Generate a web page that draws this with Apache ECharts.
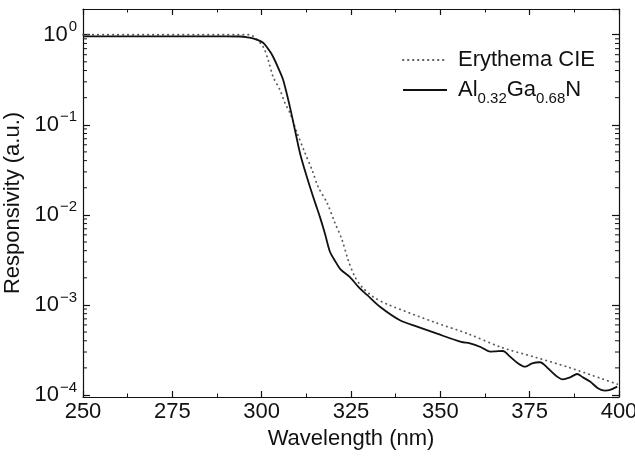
<!DOCTYPE html>
<html>
<head>
<meta charset="utf-8">
<script src="https://cdn.jsdelivr.net/npm/echarts@6/dist/echarts.min.js"></script>
<style>html,body{margin:0;padding:0;background:#fff;}#c{width:635px;height:457px;}</style>
</head>
<body>
<div id="c"></div>
<script>
// ---- data ----
const wavelengthAlGaN = [250, 270, 290, 294, 296, 298, 300.4, 302, 303.2, 304.5, 306, 307.9, 309.3, 310.7, 312, 313.5, 315, 316.3, 317.7, 319.1, 320.5, 322, 324.7, 327, 329.5, 333.1, 338.7, 343.5, 349.1, 355.8, 358.3, 361.4, 363.9, 365.5, 367.5, 369.5, 371.7, 373.7, 375.7, 377.9, 380.1, 382.7, 384.3, 386.3, 388.3, 389.9, 391.9, 394.1, 396.1, 397.5, 399.5];
const responsivityAlGaN = [0.96, 0.96, 0.96, 0.955, 0.935, 0.90, 0.815, 0.68, 0.57, 0.44, 0.316, 0.158, 0.088, 0.049, 0.032, 0.0205, 0.0135, 0.0095, 0.0062, 0.0039, 0.0031, 0.0025, 0.00204, 0.00160, 0.00129, 0.000955, 0.000676, 0.000575, 0.000479, 0.000389, 0.000375, 0.000339, 0.000303, 0.000305, 0.000308, 0.000267, 0.000225, 0.000206, 0.000225, 0.000231, 0.000198, 0.000160, 0.000149, 0.000157, 0.000171, 0.000157, 0.000141, 0.000119, 0.000112, 0.000114, 0.000124];

const wavelengthCIE = [250, 296.7, 298.1, 300.4, 301.8, 303.2, 305.1, 306.5, 307.9, 309.9, 312.1, 314.1, 315.8, 318.3, 320.5, 322.5, 324.2, 326.1, 328.1, 331.2, 335.1, 348.2, 357.7, 367.0, 376.5, 385.7, 395.3, 399.5];
const responsivityCIE = [1.0, 1.0, 0.927, 0.736, 0.527, 0.341, 0.245, 0.175, 0.136, 0.0815, 0.0489, 0.0316, 0.0205, 0.0136, 0.00815, 0.00527, 0.00316, 0.00205, 0.00158, 0.00123, 0.00102, 0.000646, 0.000479, 0.000339, 0.000263, 0.000204, 0.000151, 0.000132];

const xTickLabels = ['250', '275', '300', '325', '350', '375', '400'];
const yDecades = [-4, -3, -2, -1, 0];
const yMinorMultipliers = [2, 3, 4, 5, 6, 7, 8, 9];

const seriesNames = ['Erythema CIE', 'AlGaN'];
// ----------------------------------------

const X_MIN = 250, X_MAX = 400, Y_MIN = 0.95e-4, Y_MAX = 1.93;
const FONT = '"Liberation Sans", Arial, Helvetica, sans-serif';
const INK = '#111';
const FS = 22;

const minorTickValues = [];
yDecades.slice(0, -1).forEach(d => yMinorMultipliers.forEach(m => minorTickValues.push([X_MIN, m * Math.pow(10, d)])));

const pairs = (xs, ys) => xs.map((x, i) => [x, ys[i]]);

const chart = echarts.init(document.getElementById('c'), null, {renderer: 'canvas'});

const yLabelFormatter = v => {
  const l = Math.log10(v);
  const e = Math.round(l);
  if (Math.abs(l - e) > 1e-6 || yDecades.indexOf(e) < 0) return '';
  return '{b|10}{s|' + (e === 0 ? '0' : '\u2212' + (-e)) + '}';
};

const commonX = {
  type: 'value', min: X_MIN, max: X_MAX, interval: 25,
  axisLine: {show: true, lineStyle: {color: INK, width: 1.2}},
  axisTick: {show: true, inside: true, length: 6, lineStyle: {color: INK, width: 1.2}},
  minorTick: {show: true, splitNumber: 2, length: 3.5, lineStyle: {color: INK, width: 1}},
  splitLine: {show: false}
};
const commonY = {
  type: 'log', logBase: 10, min: Y_MIN, max: Y_MAX,
  axisLine: {show: true, lineStyle: {color: INK, width: 1.2}},
  axisTick: {show: true, inside: true, length: 7, lineStyle: {color: INK, width: 1.2}},
  minorTick: {show: false},
  splitLine: {show: false}
};

chart.setOption({
  backgroundColor: '#fff',
  animation: false,
  grid: {left: 83, right: 16, top: 9, bottom: 60, containLabel: false, outerBoundsMode: 'none'},
  legend: {
    data: seriesNames,
    orient: 'vertical',
    left: 402, top: 49, padding: 0,
    itemWidth: 44, itemHeight: 14, itemGap: 8,
    itemStyle: {opacity: 0},
    formatter: name => name === 'AlGaN'
      ? '{n|Al}{sub|0.32}{n|Ga}{sub|0.68}{n|N}'
      : '{n|' + name + '}',
    textStyle: {
      color: INK, fontFamily: FONT, fontSize: FS, padding: [0, 0, 0, 6],
      rich: {
        n: {fontSize: FS, fontFamily: FONT, color: INK, lineHeight: 24, verticalAlign: 'middle'},
        sub: {fontSize: 15, fontFamily: FONT, color: INK, lineHeight: 14, verticalAlign: 'bottom', padding: [0, 0, -4, 0]}
      }
    }
  },
  xAxis: [
    Object.assign({}, commonX, {
      position: 'bottom',
      name: 'Wavelength (nm)', nameLocation: 'middle', nameGap: 31,
      nameTextStyle: {fontSize: FS, fontFamily: FONT, color: INK},
      axisLabel: {show: true, margin: 4, fontSize: FS, fontFamily: FONT, color: INK,
        formatter: v => xTickLabels.indexOf(String(v)) >= 0 ? String(v) : ''}
    }),
    Object.assign({}, commonX, {position: 'top', axisLabel: {show: false}})
  ],
  yAxis: [
    Object.assign({}, commonY, {
      position: 'left',
      name: 'Responsivity (a.u.)', nameLocation: 'middle', nameGap: 56,
      nameTextStyle: {fontSize: FS, fontFamily: FONT, color: INK},
      axisLabel: {show: true, margin: 6, formatter: yLabelFormatter, showMinLabel: false, showMaxLabel: false,
        rich: {
          b: {fontSize: FS, fontFamily: FONT, color: INK, lineHeight: 26, verticalAlign: 'middle'},
          s: {fontSize: 15, fontFamily: FONT, color: INK, lineHeight: 15, verticalAlign: 'top', padding: [-2, 0, 0, 1]}
        }}
    }),
    Object.assign({}, commonY, {position: 'right', axisLabel: {show: false}})
  ],
  series: [
    {
      name: 'Erythema CIE', type: 'line', xAxisIndex: 0, yAxisIndex: 0,
      data: pairs(wavelengthCIE, responsivityCIE),
      symbol: 'none', smooth: 0.3,
      lineStyle: {color: '#5a5a5a', width: 1.8, type: [0.4, 4.6], cap: 'round'},
      itemStyle: {color: '#5a5a5a'}, z: 3
    },
    {
      name: 'AlGaN', type: 'line', xAxisIndex: 0, yAxisIndex: 0,
      data: pairs(wavelengthAlGaN, responsivityAlGaN),
      symbol: 'none', smooth: 0.3,
      lineStyle: {color: INK, width: 1.8},
      itemStyle: {color: INK}, z: 4
    },
    {
      name: 'minorTicks', type: 'custom', xAxisIndex: 0, yAxisIndex: 0,
      silent: true, clip: false, z: 5,
      data: minorTickValues,
      renderItem: (params, api) => {
        const v = api.value(1);
        const pL = api.coord([X_MIN, v]);
        const pR = api.coord([X_MAX, v]);
        const st = {stroke: INK, lineWidth: 1};
        return {type: 'group', children: [
          {type: 'line', shape: {x1: pL[0], y1: pL[1], x2: pL[0] + 4, y2: pL[1]}, style: st},
          {type: 'line', shape: {x1: pR[0], y1: pR[1], x2: pR[0] - 4, y2: pR[1]}, style: st}
        ]};
      }
    }
  ]
});
</script>
</body>
</html>
